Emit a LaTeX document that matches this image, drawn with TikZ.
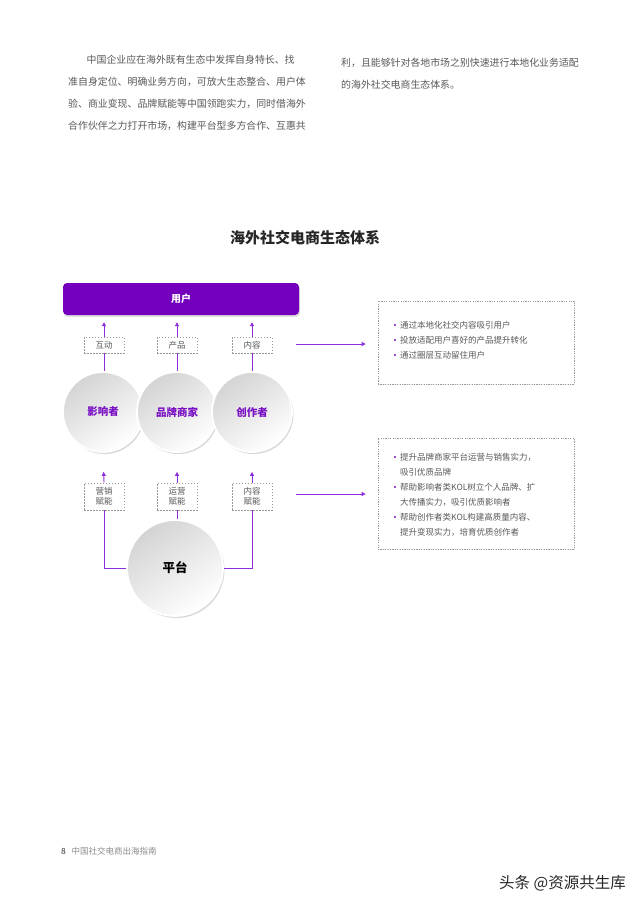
\documentclass[tikz,border=0pt]{standalone}
\usepackage{fontspec}
\setmainfont{Noto Sans CJK SC}
\usetikzlibrary{shadows,arrows.meta}
\definecolor{barpurple}{HTML}{7400BE}
\definecolor{linkpurple}{HTML}{8E2DDC}
\definecolor{txtpurple}{HTML}{7A10C4}
\definecolor{bodygray}{HTML}{595959}
\definecolor{dashgray}{HTML}{9A9A9A}

\begin{document}
\begin{tikzpicture}[x=1pt,y=-1pt,
    bodyline/.style={anchor=west,inner sep=0pt,text=bodygray,font=\fontsize{9.9}{9.9}\selectfont},
    tagbox/.style={draw=dashgray,dash pattern=on 1.5pt off 1.5pt,line width=.6pt,minimum width=40pt,inner sep=0pt,text=bodygray,align=center,font=\fontsize{8.5}{10}\selectfont},
    ball/.style={circle,draw=white,line width=1.8pt,shading=axis,top color=black!17,bottom color=white,shading angle=35,drop shadow={shadow xshift=1.5pt,shadow yshift=-2pt,opacity=.25,fill=black!60},inner sep=0pt},
    balltext/.style={text=txtpurple,font=\fontsize{10.5}{10.5}\selectfont\bfseries},
    link/.style={linkpurple,line width=.9pt},
    uparrow/.style={link,-{Triangle[length=4pt,width=4pt]}},
    infobox/.style={draw=dashgray,dash pattern=on 1.2pt off 1.2pt,line width=.6pt,fill=white,drop shadow={shadow xshift=1pt,shadow yshift=-1pt,opacity=.15},minimum width=196pt,inner sep=0pt},
    infoline/.style={anchor=west,inner sep=0pt,text=bodygray,font=\fontsize{8.5}{8.5}\selectfont}
  ]
  \useasboundingbox[fill=white] (0,0) rectangle (640,905);

  % body text
  \node[bodyline] (left1) at (86.5,60) {中国企业应在海外既有生态中发挥自身特长、找};
  \node[bodyline] (left2) at (68,82) {准自身定位、明确业务方向，可放大生态整合、用户体};
  \node[bodyline] (left3) at (68,104) {验、商业变现、品牌赋能等中国领跑实力，同时借海外};
  \node[bodyline] (left4) at (68,126) {合作伙伴之力打开市场，构建平台型多方合作、互惠共};
  \node[bodyline] (right1) at (341,63) {利，且能够针对各地市场之别快速进行本地化业务适配};
  \node[bodyline] (right2) at (341,85) {的海外社交电商生态体系。};

  % title
  \node[font=\fontsize{15}{15}\selectfont\bfseries,text=black!85] (title) at (305,238) {海外社交电商生态体系};

  % users bar
  \node[fill=barpurple,rounded corners=4pt,minimum width=236pt,minimum height=32pt,
    drop shadow={shadow xshift=1pt,shadow yshift=-2pt,opacity=.25},
    text=white,font=\fontsize{10}{10}\selectfont\bfseries] (users) at (181,299) {用户};

  % upper tags
  \node[tagbox,minimum height=16pt] (tagA) at (104,345) {互动};
  \node[tagbox,minimum height=16pt] (tagB) at (177,345) {产品};
  \node[tagbox,minimum height=16pt] (tagC) at (252,345) {内容};

  % lower tags
  \node[tagbox,minimum height=27pt] (tagD) at (104,496.5) {营销\\赋能};
  \node[tagbox,minimum height=27pt] (tagE) at (177,496.5) {运营\\赋能};
  \node[tagbox,minimum height=27pt] (tagF) at (252,496.5) {内容\\赋能};

  % connectors behind the circles
  \draw[uparrow,shorten >=7pt] (tagA.north) -- (users.south -| tagA.north);
  \draw[uparrow,shorten >=7pt] (tagB.north) -- (users.south -| tagB.north);
  \draw[uparrow,shorten >=7pt] (tagC.north) -- (users.south -| tagC.north);
  \draw[link] (tagA.south) -- ++(0,20);
  \draw[link] (tagB.south) -- ++(0,20);
  \draw[link] (tagC.south) -- ++(0,20);

  % roles
  \node[ball,minimum size=80pt] (infl) at (103,412) {};
  \node[balltext] at (infl) {影响者};
  \node[ball,minimum size=80pt] (brand) at (177,412) {};
  \node[balltext] at (brand) {品牌商家};
  \node[ball,minimum size=80pt] (creator) at (252,412) {};
  \node[balltext] at (creator) {创作者};

  % platform
  \draw[link] (tagE.south) -- ++(0,16);
  \node[ball,minimum size=96pt,text=black,font=\fontsize{12.5}{12.5}\selectfont\bfseries] (plat) at (175,568) {平台};

  \draw[uparrow,shorten >=19pt] (tagD.north) -- (infl.south);
  \draw[uparrow,shorten >=19pt] (tagE.north) -- (brand.south);
  \draw[uparrow,shorten >=19pt] (tagF.north) -- (creator.south);
  \draw[link] (tagD.south) |- (plat.west);
  \draw[link] (tagF.south) |- (plat.east);

  % info boxes
  \node[infobox,minimum height=83pt] (info1) at (476,342.5) {};
  \node[infobox,minimum height=111pt] (info2) at (476,493.5) {};
  \coordinate (arrowA) at (296,344);
  \coordinate (arrowB) at (296,494);
  \draw[uparrow,shorten >=12pt] (arrowA) -- (arrowA -| info1.west);
  \draw[uparrow,shorten >=12pt] (arrowB) -- (arrowB -| info2.west);

  \foreach \yy in {325,340,355,457,487,517}
    \fill[txtpurple] (395,\yy) circle (1.2pt);
  \foreach \yy/\txt [count=\i] in {325/通过本地化社交内容吸引用户,340/投放适配用户喜好的产品提升转化,355/通过圈层互动留住用户,
      457/提升品牌商家平台运营与销售实力，,472/吸引优质品牌,487/帮助影响者类KOL树立个人品牌、扩,
      502/大传播实力，吸引优质影响者,517/帮助创作者类KOL构建高质量内容、,532/提升变现实力，培育优质创作者}
    \node[infoline] (item\i) at (400,\yy) {\txt};

  % footer
  \node[anchor=west,inner sep=0pt,text=black!80,font=\fontsize{8.5}{8.5}\selectfont] (pageno) at (61,851) {8};
  \node[anchor=west,inner sep=0pt,text=black!45,font=\fontsize{8.5}{8.5}\selectfont] (footer) at (71.5,851) {中国社交电商出海指南};
  \node[anchor=east,inner sep=0pt,text=black!85,font=\fontsize{15.5}{15.5}\selectfont] (mark) at (626,883) {头条 @资源共生库};
\end{tikzpicture}
\end{document}
